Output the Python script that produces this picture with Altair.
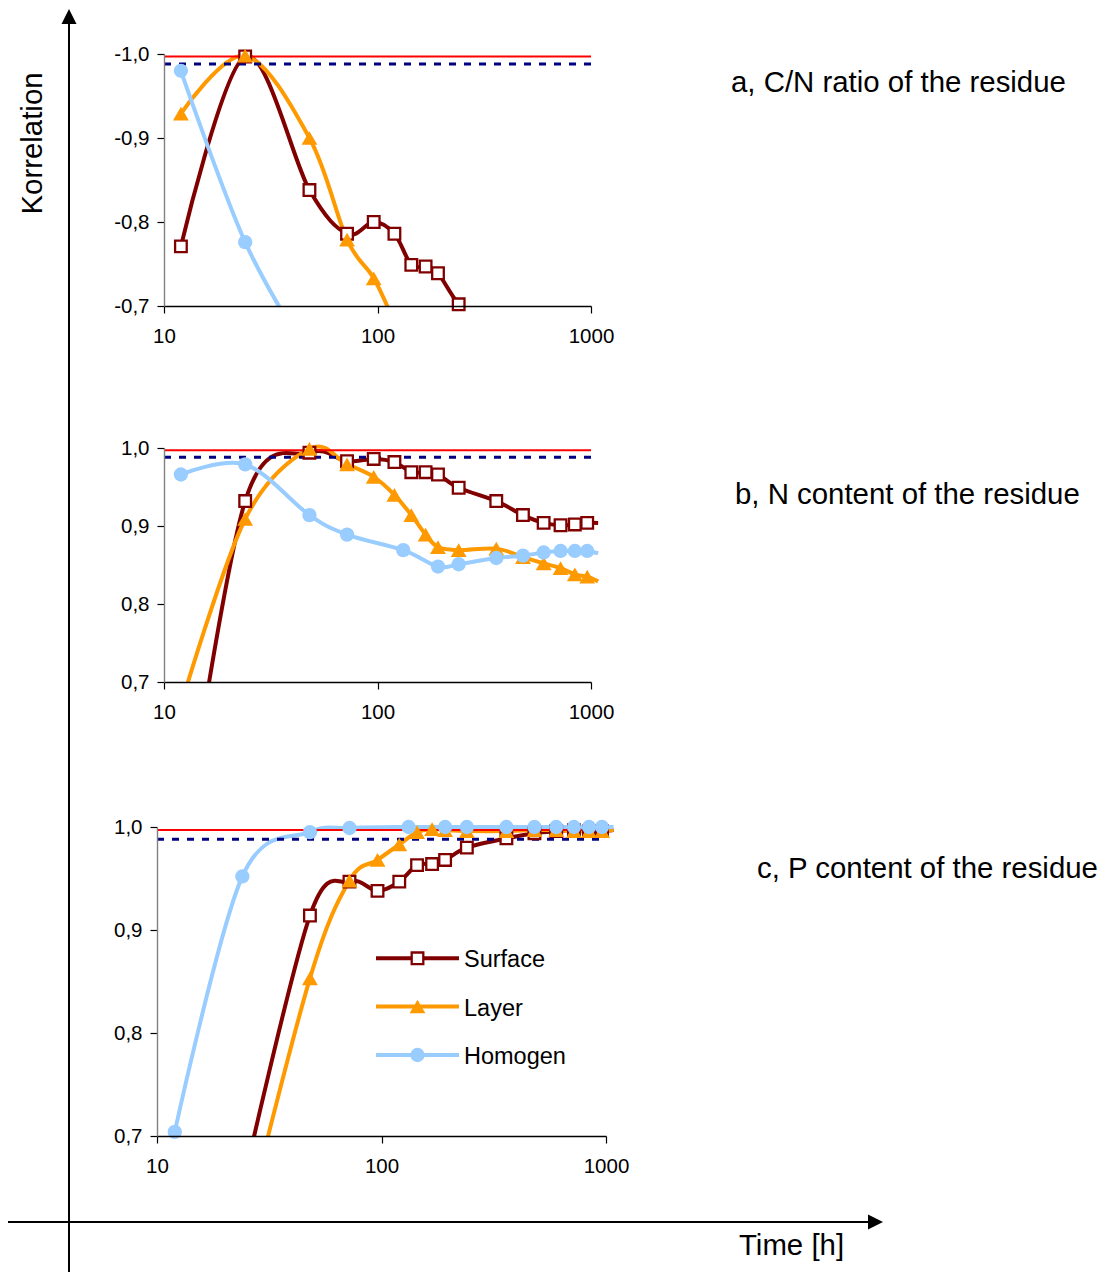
import altair as alt
import pandas as pd

# ---------------------------------------------------------------- data
SERIES = ["Surface", "Layer", "Homogen"]
COLORS = ["#800000", "#FF9900", "#99CCFF"]

# sampling times [h]
T_STD = [12, 24, 48, 72, 96, 120, 144, 168, 192, 240, 360, 480, 600, 720, 840, 960, 1080]
T_HOM = [12, 24, 48, 72, 132, 192, 240, 360, 480, 600, 720, 840, 960, 1080]

# a, C/N ratio of the residue
A_SURFACE_T = [12, 24, 48, 72, 96, 120, 144, 168, 192, 240, 360]
A_SURFACE = [-0.771, -0.997, -0.838, -0.786, -0.800, -0.786, -0.749, -0.747, -0.739, -0.702, -0.650]
A_LAYER_T = [12, 24, 48, 72, 96, 120]
A_LAYER = [-0.929, -0.998, -0.900, -0.779, -0.733, -0.680]
A_HOMOGEN_T = [12, 24, 48]
A_HOMOGEN = [-0.980, -0.776, -0.640]

# b, N content of the residue
B_SURFACE = [0.47, 0.932, 0.994, 0.983, 0.986, 0.982, 0.969, 0.969, 0.966, 0.949,
             0.932, 0.914, 0.904, 0.901, 0.902, 0.904, 0.904]
B_LAYER = [0.67, 0.909, 0.999, 0.979, 0.963, 0.940, 0.914, 0.889, 0.873, 0.869,
           0.871, 0.860, 0.852, 0.846, 0.838, 0.835, 0.829]
B_HOMOGEN = [0.966, 0.979, 0.914, 0.889, 0.869, 0.848, 0.851, 0.859, 0.862, 0.866,
             0.868, 0.868, 0.868, 0.865]

# c, P content of the residue
C_SURFACE = [0.65, 0.914, 0.947, 0.938, 0.947, 0.963, 0.964, 0.968, 0.980, 0.989,
             0.994, 0.996, 0.997, 0.996, 0.996, 0.997]
C_LAYER = [0.60, 0.853, 0.948, 0.968, 0.983, 0.995, 0.998, 0.997, 0.996, 0.996,
           0.997, 0.997, 0.996, 0.996, 0.996, 0.997]
C_HOMOGEN = [0.704, 0.952, 0.995, 0.999, 1.0, 1.0, 1.0, 1.0, 1.0, 1.0,
             1.0, 1.0, 1.0, 1.0]

# significance thresholds
THRESH_RED = 0.997
THRESH_DASH = 0.988

Y_TICKS_NEG = [-1.0, -0.9, -0.8, -0.7]
Y_TICKS_POS = [0.7, 0.8, 0.9, 1.0]
X_TICKS = [10, 100, 1000]

TITLES = ["a, C/N ratio of the residue", "b, N content of the residue", "c, P content of the residue"]

# ---------------------------------------------------------------- layout
W, H = 1105, 1272
FONT = "Liberation Sans"
LINE_W = 4
BIG_TEXT = 29.4

PANELS = [
    dict(series=[(A_SURFACE_T, A_SURFACE), (A_LAYER_T, A_LAYER), (A_HOMOGEN_T, A_HOMOGEN)],
         sign=-1, x0=164, x1=591, ytop=54, ybot=306, ticks=Y_TICKS_NEG,
         masks=[(95, 680, 307, 441)], title=(731, 92)),
    dict(series=[(T_STD, B_SURFACE), (T_STD, B_LAYER), (T_HOM, B_HOMOGEN)],
         sign=1, x0=164, x1=591, ytop=448, ybot=682, ticks=Y_TICKS_POS,
         masks=[(95, 680, 683, 819), (95, 238, 819, 874)], title=(735, 504)),
    dict(series=[(T_STD[1:], C_SURFACE), (T_STD[1:], C_LAYER), (T_HOM, C_HOMOGEN)],
         sign=1, x0=157, x1=606, ytop=827, ybot=1136, ticks=Y_TICKS_POS,
         masks=[(95, 680, 1137, 1272)], title=(757, 878)),
]

Y_LABEL_EXPR = ("(datum.value < 0 ? '-' : '') + "
                "replace(format(abs(datum.value), '.1f'), '.', ',')")


def scales(p):
    sx = alt.Scale(type="log", domain=[10, 1000], range=[p["x0"], p["x1"]], nice=False)
    if p["sign"] < 0:
        sy = alt.Scale(domain=[-1.0, -0.7], range=[p["ytop"], p["ybot"]], nice=False, zero=False)
    else:
        sy = alt.Scale(domain=[0.7, 1.0], range=[p["ybot"], p["ytop"]], nice=False, zero=False)
    return sx, sy


def axes(p):
    common = dict(labelFont=FONT, labelFontSize=20.5, labelColor="black", grid=False,
                  title=None, zindex=1, tickColor="black", tickWidth=1.2, tickSize=7,
                  labelOverlap=False)
    ax = alt.Axis(orient="bottom", offset=p["ybot"] - H, values=X_TICKS,
                  labelExpr="format(datum.value, 'd')", labelPadding=13,
                  labelFlush=False, domainColor="black", domainWidth=1.4, **common)
    ay = alt.Axis(orient="left", offset=-p["x0"], values=p["ticks"],
                  labelExpr=Y_LABEL_EXPR, labelPadding=8,
                  domainColor="#808080", domainWidth=1.4, **common)
    return ax, ay


def panel_frame(p):
    rows = []
    for name, (ts, vs) in zip(SERIES, p["series"]):
        for t, v in zip(ts, vs):
            rows.append({"series": name, "t": t, "v": v})
    return pd.DataFrame(rows)


MARKER_STYLES = {
    "Surface": dict(shape="square", filled=True, fill="white", stroke=COLORS[0],
                    strokeWidth=2.3, size=135),
    "Layer": dict(shape="triangle-up", filled=True, fill=COLORS[1], strokeWidth=0, size=250),
    "Homogen": dict(shape="circle", filled=True, fill=COLORS[2], strokeWidth=0, size=205),
}

line_layers, rule_layers, mask_layers, point_layers = [], [], [], []
one = pd.DataFrame({"k": [0]})

for p in PANELS:
    sx, sy = scales(p)
    ax, ay = axes(p)
    df = panel_frame(p)
    lo, hi = (-1.0, -0.7) if p["sign"] < 0 else (0.7, 1.0)

    line_layers.append(
        alt.Chart(df).mark_line(interpolate="cardinal", strokeWidth=LINE_W).encode(
            x=alt.X("t:Q", scale=sx, axis=None),
            y=alt.Y("v:Q", scale=sy, axis=None),
            color=alt.Color("series:N", scale=alt.Scale(domain=SERIES, range=COLORS), legend=None),
            detail="series:N",
        )
    )

    thr = pd.DataFrame({
        "t0": [10, 10], "t1": [1000, 1000],
        "v": [p["sign"] * THRESH_RED, p["sign"] * THRESH_DASH],
        "kind": ["red", "dash"],
    })
    rule_layers.append(
        alt.Chart(thr).transform_filter("datum.kind == 'red'")
        .mark_rule(color="#FF0000", strokeWidth=2).encode(
            x=alt.X("t0:Q", scale=sx, axis=None), x2="t1:Q",
            y=alt.Y("v:Q", scale=sy, axis=None))
    )
    rule_layers.append(
        alt.Chart(thr).transform_filter("datum.kind == 'dash'")
        .mark_rule(color="#000080", strokeWidth=3, strokeDash=[7, 8]).encode(
            x=alt.X("t0:Q", scale=sx, axis=None), x2="t1:Q",
            y=alt.Y("v:Q", scale=sy, axis=None))
    )

    # white bands below each panel hide curve parts that leave the plot area
    for mx0, mx1, my0, my1 in p["masks"]:
        mask_layers.append(
            alt.Chart(one).mark_rect(color="white", opacity=1).encode(
                x=alt.value(mx0), x2=alt.value(mx1), y=alt.value(my0), y2=alt.value(my1))
        )

    visible = f"datum.t <= 1000 && datum.v >= {lo} - 1e-9 && datum.v <= {hi} + 1e-9"
    for name in SERIES:
        is_last = name == SERIES[-1]
        point_layers.append(
            alt.Chart(df).transform_filter(f"datum.series == '{name}'")
            .transform_filter(visible)
            .mark_point(opacity=1, **MARKER_STYLES[name]).encode(
                x=alt.X("t:Q", scale=sx, axis=ax if is_last else None),
                y=alt.Y("v:Q", scale=sy, axis=ay if is_last else None),
            )
        )

# ---------------------------------------------------------------- legend
LEG_X0, LEG_X1, LEG_XM, LEG_TX = 376, 459, 417.5, 464
LEG_Y = [958.3, 1006.5, 1055]
legend_layers = []
for name, col, yy in zip(SERIES, COLORS, LEG_Y):
    legend_layers.append(
        alt.Chart(one).mark_rule(color=col, strokeWidth=LINE_W).encode(
            x=alt.value(LEG_X0), x2=alt.value(LEG_X1), y=alt.value(yy)))
    legend_layers.append(
        alt.Chart(one).mark_point(opacity=1, **MARKER_STYLES[name]).encode(
            x=alt.value(LEG_XM), y=alt.value(yy)))
    legend_layers.append(
        alt.Chart(one).mark_text(text=name, font=FONT, fontSize=23.5, color="black",
                                 align="left", baseline="alphabetic").encode(
            x=alt.value(LEG_TX), y=alt.value(yy + 9)))

# ---------------------------------------------------------------- frame: arrows and labels
deco = [
    alt.Chart(one).mark_rule(color="black", strokeWidth=2).encode(
        x=alt.value(69), y=alt.value(22), y2=alt.value(H)),
    alt.Chart(one).mark_point(shape="M0,-1L1,1L-1,1Z", filled=True, fill="black",
                              strokeWidth=0, size=225, opacity=1).encode(
        x=alt.value(69), y=alt.value(16.5)),
    alt.Chart(one).mark_rule(color="black", strokeWidth=2).encode(
        x=alt.value(8), x2=alt.value(870), y=alt.value(1222)),
    alt.Chart(one).mark_point(shape="M1,0L-1,-1L-1,1Z", filled=True, fill="black",
                              strokeWidth=0, size=225, opacity=1).encode(
        x=alt.value(875.5), y=alt.value(1222)),
    alt.Chart(one).mark_text(text="Korrelation", font=FONT, fontSize=BIG_TEXT, color="black",
                             angle=270, align="center", baseline="alphabetic").encode(
        x=alt.value(41.5), y=alt.value(143.5)),
    alt.Chart(one).mark_text(text="Time [h]", font=FONT, fontSize=BIG_TEXT, color="black",
                             align="left", baseline="alphabetic").encode(
        x=alt.value(739), y=alt.value(1255)),
]
for p, title in zip(PANELS, TITLES):
    tx, ty = p["title"]
    deco.append(
        alt.Chart(one).mark_text(text=title, font=FONT, fontSize=BIG_TEXT, color="black",
                                 align="left", baseline="alphabetic").encode(
            x=alt.value(tx), y=alt.value(ty)))

chart = (
    alt.layer(*line_layers, *mask_layers, *rule_layers, *point_layers, *legend_layers, *deco)
    .resolve_scale(x="independent", y="independent")
    .properties(width=W, height=H, padding=0, background="white",
                autosize=alt.AutoSizeParams(type="none"))
    .configure_view(stroke=None)
)

chart.save("out.html", embed_options={"renderer": "svg", "actions": False})
